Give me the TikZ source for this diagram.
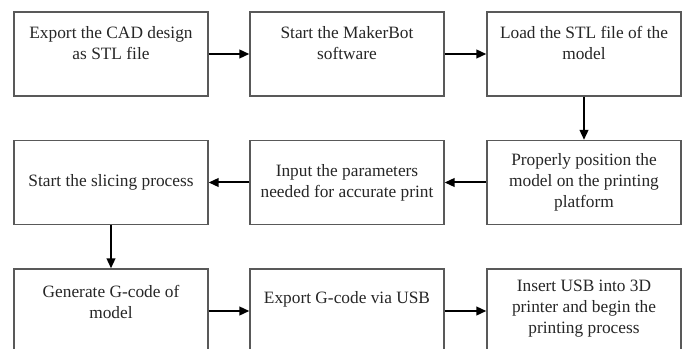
\documentclass[tikz,border=0pt]{standalone}
\usepackage{fontspec}
\setmainfont{Liberation Serif}
\usepackage{tikz}
\usetikzlibrary{arrows.meta}

\tikzset{
  stepbox/.style={draw=black!65, line width=1pt, minimum width=145.5pt, minimum height=63pt, inner sep=0pt},
  steptext/.style={align=center, text=black!85, font=\fontsize{13}{15.8}\selectfont, inner sep=0pt},
  flow/.style={-{Triangle[length=7.5pt,width=6.5pt]}, line width=1.5pt}
}

\begin{document}
\begin{tikzpicture}[x=0.75pt, y=-0.75pt]
  \useasboundingbox (0,0) rectangle (685,349);

  % First row
  \node[stepbox] (export) at (111,54) {};
  \node[steptext] (exportT) at ([yshift=-23.5pt]export.north) {Export the CAD design\\as STL file};
  \node[stepbox] (start) at (347,54) {};
  \node[steptext] (startT) at ([yshift=-23.5pt]start.north) {Start the MakerBot\\software};
  \node[stepbox] (load) at (584,54) {};
  \node[steptext] (loadT) at ([yshift=-23.5pt]load.north) {Load the STL file of the\\model};

  % Second row (runs right to left)
  \node[stepbox] (position) at (584,182.5) {};
  \node[steptext] (positionT) at (position) {Properly position the\\model on the printing\\platform};
  \node[stepbox] (params) at (347,182.5) {};
  \node[steptext] (paramsT) at (params) {Input the parameters\\needed for accurate print};
  \node[stepbox] (slice) at (111,182.5) {};
  \node[steptext] (sliceT) at (slice) {Start the slicing process};

  % Third row
  \node[stepbox] (gcode) at (111,311) {};
  \node[steptext] (gcodeT) at ([yshift=-25.5pt]gcode.north) {Generate G-code of\\model};
  \node[stepbox] (usb) at (347,311) {};
  \node[steptext] (usbT) at ([yshift=-23.5pt]usb.north) {Export G-code via USB};
  \node[stepbox] (print) at (584,311) {};
  \node[steptext] (printT) at ([yshift=-30.5pt]print.north) {Insert USB into 3D\\printer and begin the\\printing process};

  % Arrows
  \draw[flow] (export) -- (start);
  \draw[flow] (start) -- (load);
  \draw[flow] (load) -- (position);
  \draw[flow] (position) -- (params);
  \draw[flow] (params) -- (slice);
  \draw[flow] (slice) -- (gcode);
  \draw[flow] (gcode) -- (usb);
  \draw[flow] (usb) -- (print);
\end{tikzpicture}
\end{document}
